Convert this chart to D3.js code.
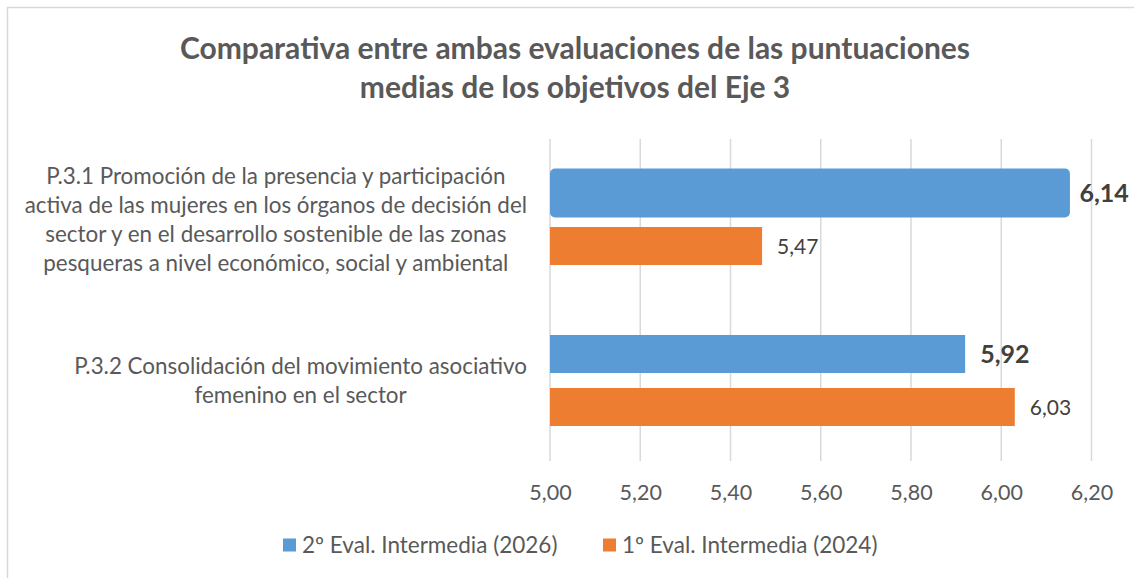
<!DOCTYPE html>
<html><head><meta charset="utf-8">
<script src="https://cdn.jsdelivr.net/npm/d3@7/dist/d3.min.js"></script>
<style>
html,body{margin:0;padding:0;background:#fff;}
svg{display:block;font-family:Lato,"Open Sans",sans-serif;}
</style></head>
<body>
<svg id="chart" width="1134" height="578"></svg>
<script>
const titleLines = ["Comparativa entre ambas evaluaciones de las puntuaciones", "medias de los objetivos del Eje 3"];
const categories = ["P.3.1", "P.3.2"];
const categoryLabels = [
  ["P.3.1 Promoción de la presencia y participación", "activa de las mujeres en los órganos de decisión del", "sector y en el desarrollo sostenible de las zonas", "pesqueras a nivel económico, social y ambiental"],
  ["P.3.2 Consolidación del movimiento asociativo", "femenino en el sector"]
];
const seriesNames = ["2º Eval. Intermedia (2026)", "1º Eval. Intermedia (2024)"];
const seriesColors = ["#5b9bd5", "#ed7d31"];
const eval2026 = [6.14, 5.92];
const eval2024 = [5.47, 6.03];
const xTicks = [5.0, 5.2, 5.4, 5.6, 5.8, 6.0, 6.2];

const svg = d3.select("#chart");
const plot = {left: 550, right: 1091.5, top: 139, bottom: 461};

// outer frame (cropped chart area)
svg.append("rect").attr("x", 7.5).attr("y", 7.5).attr("width", 1200).attr("height", 700)
  .attr("fill", "#fff").attr("stroke", "#d9d9d9").attr("stroke-width", 1.5);

// title
svg.append("g").selectAll("text").data(titleLines).join("text")
  .attr("x", 575).attr("y", (d, i) => 48 + i * 39)
  .attr("dy", "0.35em")
  .attr("text-anchor", "middle").attr("fill", "#595959")
  .attr("font-weight", "bold").attr("font-size", 30).text(d => d);

const x = d3.scaleLinear().domain([5.0, 6.2]).range([plot.left, plot.right]);
const y = d3.scaleBand().domain(categories).range([plot.top, plot.bottom]);
const ySub = d3.scaleBand().domain([0, 1]).range([0, y.bandwidth()]).paddingInner(0.283).paddingOuter(0.66);

// gridlines
svg.append("g").selectAll("line").data(xTicks).join("line")
  .attr("x1", d => x(d)).attr("x2", d => x(d))
  .attr("y1", plot.top).attr("y2", plot.bottom)
  .attr("stroke", "#d9d9d9").attr("stroke-width", 1.5);

// x axis tick labels
const fmt = v => d3.format(".2f")(v).replace(".", ",");
const xAxis = d3.axisBottom(x).tickValues(xTicks).tickFormat(fmt).tickSize(0).tickPadding(0);
const gx = svg.append("g").attr("transform", `translate(0,${plot.bottom})`).call(xAxis);
gx.select(".domain").remove();
gx.selectAll("text").attr("dy", "0.35em").attr("y", 31)
  .attr("font-family", "Lato").attr("font-size", 21.5).attr("fill", "#595959");

// bars
const seriesData = [eval2026, eval2024];
const barsG = svg.append("g");
seriesData.forEach((vals, s) => {
  const hl = (i) => s === 0 && i === 0; // highlighted (selected) bar in the original
  barsG.selectAll(null).data(vals).join("rect")
    .attr("x", x(5.0))
    .attr("y", (d, i) => y(categories[i]) + ySub(s) - (hl(i) ? 5.5 : 0))
    .attr("width", (d, i) => x(d) - x(5.0) + (hl(i) ? 5.5 : 0))
    .attr("height", (d, i) => ySub.bandwidth() + (hl(i) ? 11 : 0))
    .attr("rx", (d, i) => (hl(i) ? 5 : 0))
    .attr("fill", seriesColors[s]);
  barsG.selectAll(null).data(vals).join("text")
    .attr("x", d => x(d) + 15)
    .attr("y", (d, i) => y(categories[i]) + ySub(s) + ySub.bandwidth() / 2)
    .attr("dy", "0.36em")
    .attr("fill", "#404040")
    .attr("font-weight", s === 0 ? "bold" : "normal")
    .attr("font-size", s === 0 ? 25 : 21)
    .text(d => fmt(d));
});

// category labels
const labelRight = 527, lineH = 29;
categoryLabels.forEach((lines, i) => {
  const g = svg.append("g");
  const cy = y(categories[i]) + y.bandwidth() / 2;
  const t = g.selectAll("text").data(lines).join("text")
    .attr("y", (d, j) => cy + (j - (lines.length - 1) / 2) * lineH)
    .attr("dy", "0.35em")
    .attr("font-size", 22.4).attr("fill", "#595959").text(d => d);
  let maxW = 0;
  t.each(function() { maxW = Math.max(maxW, this.getComputedTextLength()); });
  t.attr("text-anchor", "middle").attr("x", labelRight - maxW / 2);
});

// legend
const legendX = [283, 603];
const lg = svg.append("g");
seriesNames.forEach((name, s) => {
  lg.append("rect").attr("x", legendX[s]).attr("y", 538.5).attr("width", 13).attr("height", 13)
    .attr("fill", seriesColors[s]);
  lg.append("text").attr("x", legendX[s] + 19).attr("y", 545).attr("dy", "0.35em")
    .attr("font-size", 22.5).attr("fill", "#595959").text(name);
});
</script>
</body></html>
